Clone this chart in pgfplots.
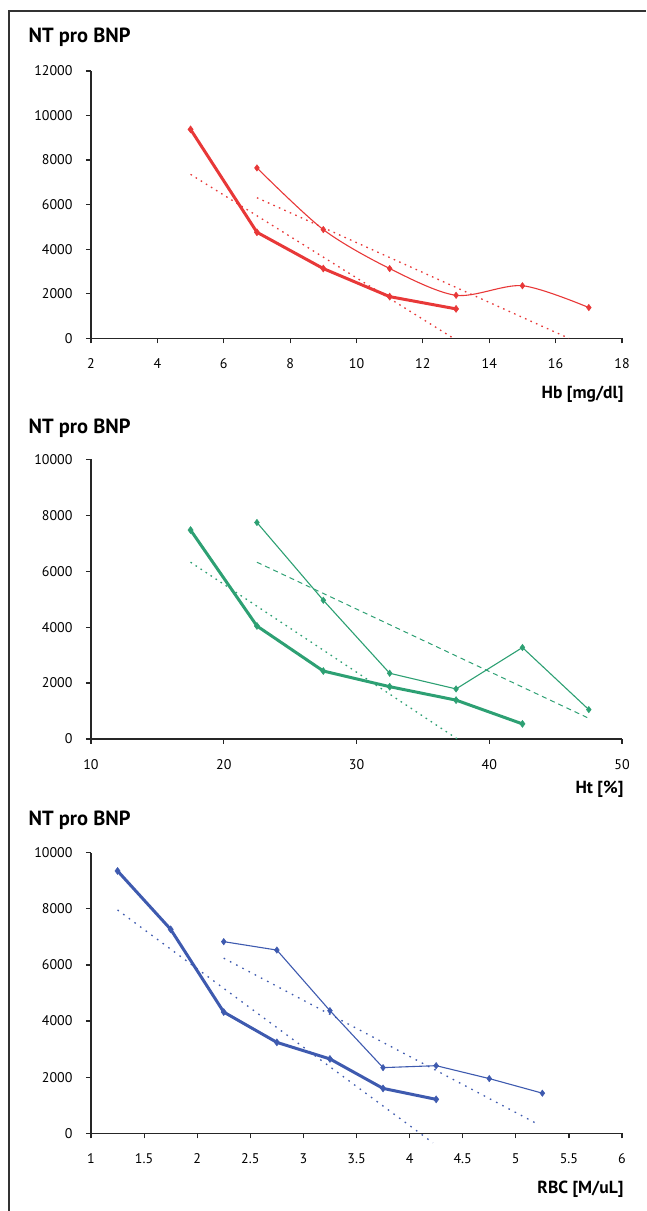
\documentclass[border=0pt]{standalone}
\usepackage{fontspec}
\setmainfont{PT Sans}
\usepackage{pgfplots}
\pgfplotsset{compat=1.18}

\definecolor{cred}{RGB}{232,56,56}
\definecolor{cgreen}{RGB}{45,160,115}
\definecolor{cblue}{RGB}{62,90,175}

\pgfplotsset{
  panel/.style={
    scale only axis, width=531pt,
    axis x line=bottom, axis y line=left,
    axis line style={-, line width=1.2pt, black!85},
    tick align=outside, major tick length=5pt,
    tick style={line width=1.2pt, black!85},
    tick label style={font=\fontsize{14}{16}\selectfont},
    /pgf/number format/assume math mode=true,
    /pgf/number format/1000 sep={},
    scaled ticks=false,
    yticklabel style={xshift=-10pt},
    xticklabel style={yshift=-12pt},
    xlabel style={at={(rel axis cs:1,0)}, anchor=east, yshift=-56pt, xshift=5pt,
      font=\fontsize{17.5}{19}\selectfont\bfseries},
    ymin=0, clip=false,
  },
  thick line/.style={line width=3pt, mark=diamond*, mark size=3.5pt,
    mark options={solid, line width=0.5pt}},
  thin line/.style={line width=1.1pt, mark=diamond*, mark size=3.2pt,
    mark options={solid, line width=0.5pt}},
  trend/.style={line width=1.3pt, dash pattern=on 1.6pt off 4.4pt},
}

\begin{document}
\begin{tikzpicture}
\useasboundingbox (0pt,0pt) rectangle (646pt,1211pt);
\draw[line width=2.2pt, black!80] (9pt,0pt) -- (9pt,1200pt) -- (646pt,1200pt);

% Panel 1: Hb
\node[anchor=west, font=\fontsize{20.5}{22}\selectfont\bfseries] at (25pt,1174pt) {NT pro BNP};
\begin{axis}[panel, at={(91pt,872.7pt)}, anchor=south west, height=267.3pt,
  xmin=2, xmax=18, xtick={2,4,...,18},
  ymax=12000, ytick={0,2000,...,12000},
  xlabel={Hb [mg/dl]}]
\addplot[cred, thick line] coordinates {(5,9380)(7,4760)(9,3130)(11,1870)(13,1320)};
\addplot[cred, thin line, smooth, tension=0.5] coordinates {(7,7650)(9,4880)(11,3130)(13,1930)(15,2360)(17,1380)};
\addplot[cred, trend] coordinates {(5,7360)(12.92,0)};
\addplot[cred, trend] coordinates {(7,6310)(16.4,0)};
\end{axis}

% Panel 2: Ht
\node[anchor=west, font=\fontsize{20.5}{22}\selectfont\bfseries] at (25pt,783pt) {NT pro BNP};
\begin{axis}[panel, at={(91pt,472pt)}, anchor=south west, height=279.7pt,
  xmin=10, xmax=50, xtick={10,20,...,50},
  ymax=10000, ytick={0,2000,...,10000},
  xlabel={Ht [\%]}, xlabel style={yshift=6pt}]
\addplot[cgreen, thick line] coordinates {(17.5,7470)(22.5,4040)(27.5,2430)(32.5,1870)(37.5,1390)(42.5,540)};
\addplot[cgreen, thin line] coordinates {(22.5,7740)(27.5,4960)(32.5,2350)(37.5,1790)(42.5,3270)(47.5,1050)};
\addplot[cgreen, trend] coordinates {(17.5,6320)(37.6,0)};
\addplot[cgreen, line width=1pt, dash pattern=on 5pt off 4pt] coordinates {(22.5,6320)(47.5,740)};
\end{axis}

% Panel 3: RBC
\node[anchor=west, font=\fontsize{20.5}{22}\selectfont\bfseries] at (25pt,391pt) {NT pro BNP};
\begin{axis}[panel, at={(91pt,77.7pt)}, anchor=south west, height=280.6pt,
  xmin=1, xmax=6, xtick={1,1.5,...,6},
  ymax=10000, ytick={0,2000,...,10000},
  xlabel={RBC [M/uL]}]
\addplot[cblue, thick line] coordinates {(1.25,9350)(1.75,7270)(2.25,4320)(2.75,3240)(3.25,2650)(3.75,1600)(4.25,1210)};
\addplot[cblue, thin line] coordinates {(2.25,6830)(2.75,6530)(3.25,4370)(3.75,2340)(4.25,2410)(4.75,1950)(5.25,1430)};
\addplot[cblue, trend, dash pattern=on 1.6pt off 5.4pt] coordinates {(1.25,7960)(4.22,-340)};
\addplot[cblue, trend, dash pattern=on 1.6pt off 5.4pt] coordinates {(2.25,6240)(5.22,300)};
\end{axis}
\end{tikzpicture}
\end{document}
